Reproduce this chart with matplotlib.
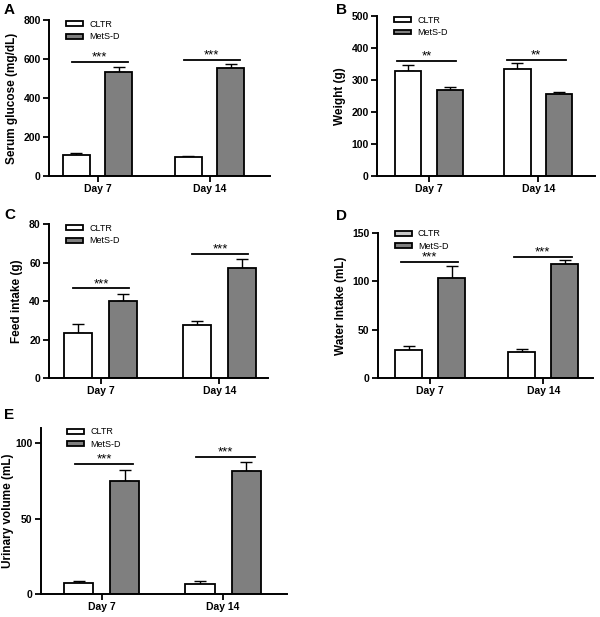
import numpy as np
import matplotlib.pyplot as plt
from matplotlib.patches import Patch

plt.rcParams['font.family'] = ['Liberation Sans', 'DejaVu Sans']

days = ['Day 7', 'Day 14']
groups = ['CLTR', 'MetS-D']

# panel A - serum glucose
glu_cltr = [106, 99]
glu_cltr_err = [10, 4]
glu_mets = [535, 552]
glu_mets_err = [25, 21]
glu_sig = [586, 593]
glu_stars = ['***', '***']

# panel B - weight
wt_cltr = [328, 333]
wt_cltr_err = [19, 19]
wt_mets = [270, 255]
wt_mets_err = [8, 8]
wt_sig = [360, 363]
wt_stars = ['**', '**']

# panel C - feed intake
feed_cltr = [23.6, 27.3]
feed_cltr_err = [4.7, 2.4]
feed_mets = [40.2, 57.2]
feed_mets_err = [3.2, 4.5]
feed_sig = [46.5, 64.3]
feed_stars = ['***', '***']

# panel D - water intake
water_cltr = [29.3, 26.9]
water_cltr_err = [4.1, 2.7]
water_mets = [103.8, 118.3]
water_mets_err = [11.6, 3.4]
water_sig = [119.6, 125.5]
water_stars = ['***', '***']

# panel E - urinary volume
urine_cltr = [7.3, 6.4]
urine_cltr_err = [1.0, 1.9]
urine_mets = [75.0, 81.5]
urine_mets_err = [7.3, 6.1]
urine_sig = [86.1, 91.1]
urine_stars = ['***', '***']

W, H = 600, 617
fig = plt.figure(figsize=(6, 6.17), dpi=100)


def px_axes(l, r, t, b):
    return fig.add_axes([l / W, 1 - b / H, (r - l) / W, (b - t) / H])


def panel(ax, cltr, cltr_err, mets, mets_err, sig, stars, ylim, yticks,
          ylabel, xlim, span, labelpad=4, leg_x=0.06, leg_y=1.025,
          leg_cltr='white'):
    x = np.arange(len(days))
    off, w = 0.19, 0.24
    ax.bar(x - off, cltr, w, color='white', edgecolor='black', linewidth=1.3,
           zorder=2)
    ax.bar(x + off, mets, w, color='#7f7f7f', edgecolor='black', linewidth=1.3,
           zorder=2)
    ax.errorbar(x - off, cltr, yerr=[np.zeros(2), cltr_err], fmt='none',
                ecolor='black', elinewidth=1, capsize=4, capthick=1, zorder=1)
    ax.errorbar(x + off, mets, yerr=[np.zeros(2), mets_err], fmt='none',
                ecolor='black', elinewidth=1, capsize=4, capthick=1, zorder=1)
    for xi, s, st in zip(x, sig, stars):
        ax.plot([xi + span[0], xi + span[1]], [s, s], color='black', lw=1.3)
        ax.text(xi + (span[0] + span[1]) / 2, s - (ylim[1] - ylim[0]) * 0.01, st,
                ha='center', va='bottom', fontsize=9.5)
    ax.set_xlim(*xlim)
    ax.set_ylim(*ylim)
    ax.set_yticks(yticks)
    ax.set_xticks(x)
    ax.set_xticklabels(days, fontsize=7.5, fontweight='bold')
    for lab in ax.get_yticklabels():
        lab.set_fontsize(7.5)
        lab.set_fontweight('bold')
    ax.set_ylabel(ylabel, fontsize=8.5, fontweight='bold', labelpad=labelpad)
    ax.spines['top'].set_visible(False)
    ax.spines['right'].set_visible(False)
    ax.spines['left'].set_linewidth(1.4)
    ax.spines['bottom'].set_linewidth(1.4)
    ax.tick_params(width=1.3, length=4, pad=2)
    handles = [Patch(facecolor=leg_cltr, edgecolor='black', linewidth=1.3),
               Patch(facecolor='#7f7f7f', edgecolor='black', linewidth=1.3)]
    ax.legend(handles, groups, loc='upper left', bbox_to_anchor=(leg_x, leg_y),
              frameon=False, fontsize=6.5, handlelength=1.9, handleheight=0.45,
              labelspacing=0.4, handletextpad=0.7, borderaxespad=0)


axA = px_axes(49, 270, 20, 176)
panel(axA, glu_cltr, glu_cltr_err, glu_mets, glu_mets_err, glu_sig, glu_stars,
      (0, 800), [0, 200, 400, 600, 800], 'Serum glucose (mg/dL)',
      (-0.433, 1.54), (-0.23, 0.27))

axB = px_axes(377, 595, 16, 176)
panel(axB, wt_cltr, wt_cltr_err, wt_mets, wt_mets_err, wt_sig, wt_stars,
      (0, 500), [0, 100, 200, 300, 400, 500], 'Weight (g)',
      (-0.476, 1.52), (-0.29, 0.25))

axC = px_axes(49, 268, 224, 378)
panel(axC, feed_cltr, feed_cltr_err, feed_mets, feed_mets_err, feed_sig, feed_stars,
      (0, 80), [0, 20, 40, 60, 80], 'Feed intake (g)',
      (-0.435, 1.41), (-0.23, 0.24))

axD = px_axes(378, 593, 233, 378)
panel(axD, water_cltr, water_cltr_err, water_mets, water_mets_err, water_sig,
      water_stars, (0, 150), [0, 50, 100, 150], 'Water Intake (mL)',
      (-0.46, 1.44), (-0.26, 0.25), leg_y=1.05, leg_cltr='#c8c8c8')

axE = px_axes(41, 287, 428, 594)
panel(axE, urine_cltr, urine_cltr_err, urine_mets, urine_mets_err, urine_sig,
      urine_stars, (0, 110), [0, 50, 100], 'Urinary volume (mL)',
      (-0.5, 1.527), (-0.22, 0.26), labelpad=1, leg_x=0.09)

for lbl, px, py in [('A', 4, 3), ('B', 336, 3), ('C', 4, 208), ('D', 336, 209),
                    ('E', 4, 408)]:
    fig.text(px / W, 1 - py / H, lbl, fontsize=11, fontweight='bold',
             ha='left', va='top')

plt.savefig('out.png', dpi=100)
